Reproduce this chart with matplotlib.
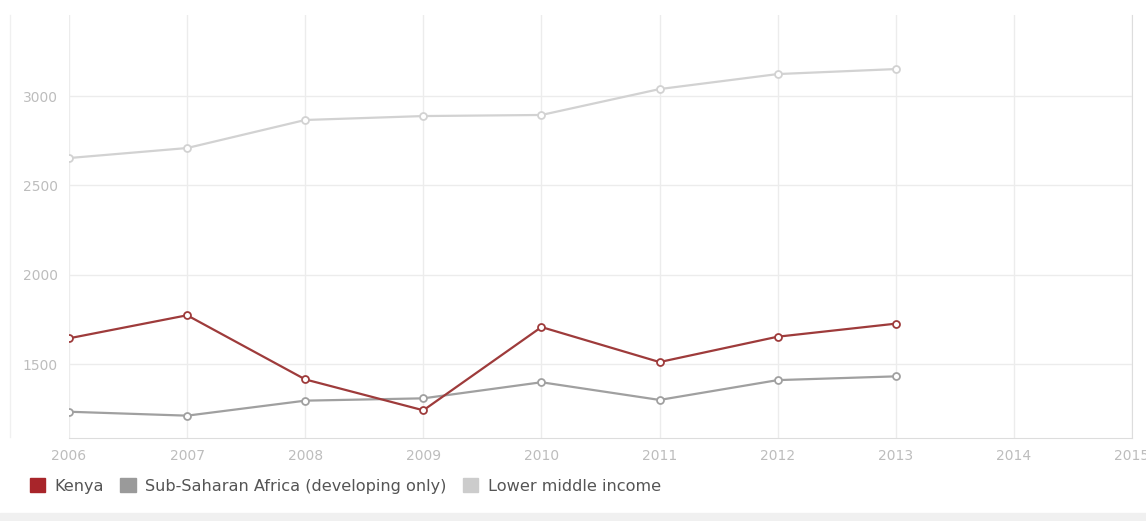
import matplotlib
matplotlib.use("Agg")
import matplotlib.pyplot as plt
from matplotlib.patches import Patch, Rectangle

# values
years = [2006, 2007, 2008, 2009, 2010, 2011, 2012, 2013]
kenya = [1644, 1773, 1414, 1241, 1707, 1511, 1653, 1726]
ssa = [1233, 1211, 1295, 1308, 1398, 1299, 1410, 1431]
lmi = [2653, 2709, 2866, 2888, 2894, 3039, 3123, 3151]
names = ["Kenya", "Sub-Saharan Africa (developing only)", "Lower middle income"]
line_cols = ["#9e3b3b", "#a0a0a0", "#d2d2d2"]
key_cols = ["#a8252a", "#9a9a9a", "#cccccc"]
xticks = [2006, 2007, 2008, 2009, 2010, 2011, 2012, 2013, 2014, 2015]
yticks = [1500, 2000, 2500, 3000]

fig = plt.figure(figsize=(11.46, 5.21), dpi=100)
ax = fig.add_axes([0.0602, 0.160, 0.9276, 0.811])

for ys, c in zip([lmi, ssa, kenya], [line_cols[2], line_cols[1], line_cols[0]]):
    ax.plot(years, ys, color=c, lw=1.6, marker='o', ms=5, mfc='white', mec=c, mew=1.3, zorder=3)

ax.set_xlim(2006, 2015); ax.set_ylim(1088, 3453)
ax.set_xticks(xticks); ax.set_yticks(yticks)
ax.grid(True, color='#ececec', lw=1)
ax.tick_params(length=0, colors='#bdbdbd', labelsize=10, pad=8)
for s in ['top', 'left']:
    ax.spines[s].set_visible(False)
for s in ['bottom', 'right']:
    ax.spines[s].set_color('#dddddd')

# faint frame line at the far left, as in the reference
fig.add_artist(plt.Line2D([10/1146, 10/1146], [(521-437)/521, (521-15)/521], color='#f0f0f0', lw=1))

handles = [Patch(facecolor=c, edgecolor=c) for c in key_cols]
leg = fig.legend(handles, names, loc='center left', bbox_to_anchor=(0.026, (521-486)/521), ncol=3, frameon=False,
                 fontsize=11.6, handlelength=0.95, handleheight=0.95, handletextpad=0.6, columnspacing=1.0,
                 borderaxespad=0, borderpad=0)
for t in leg.get_texts(): t.set_color('#555555')

fig.patches.append(Rectangle((0, 0), 1, 8/521, transform=fig.transFigure, color='#f0f0f0', zorder=0))
fig.savefig("out.png", dpi=100)
